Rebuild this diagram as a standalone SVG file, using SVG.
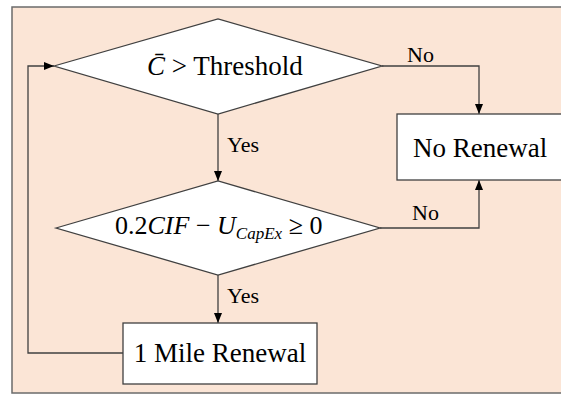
<svg xmlns="http://www.w3.org/2000/svg" width="561" height="394" viewBox="0 0 561 394">
  <defs>
    <marker id="arrow" markerUnits="userSpaceOnUse" markerWidth="10" markerHeight="10" viewBox="0 0 10 10" refX="10" refY="5" orient="auto">
      <path d="M0,1 L10,5 L0,9 Z" fill="#000"/>
    </marker>
    <style>
      .frame { fill: #FBE5D6; stroke: #6b6b6b; stroke-width: 1.5; }
      .shape { fill: #ffffff; stroke: #404040; stroke-width: 1.3; }
      .conn { fill: none; stroke: #404040; stroke-width: 1.3; marker-end: url(#arrow); }
      text { font-family: 'Liberation Serif', serif; fill: #000; }
      .lbl { font-size: 22px; }
      .big { font-size: 27px; }
    </style>
  </defs>

  <!-- background panel -->
  <rect class="frame" x="12" y="7" width="565" height="386"/>

  <!-- connectors -->
  <g id="connectors">
    <path class="conn" d="M218,114 L218,181"/>
    <path class="conn" d="M382,66 L479,66 L479,114"/>
    <path class="conn" d="M380,228 L479,228 L479,180"/>
    <path class="conn" d="M218,275 L218,323"/>
    <path class="conn" d="M123,353 L28,353 L28,66 L54,66"/>
    <text class="lbl" font-family="Liberation Serif, serif" x="227" y="152">Yes</text>
    <text class="lbl" font-family="Liberation Serif, serif" x="407" y="62">No</text>
    <text class="lbl" font-family="Liberation Serif, serif" x="412" y="220">No</text>
    <text class="lbl" font-family="Liberation Serif, serif" x="227" y="303">Yes</text>
  </g>

  <!-- decision: average condition above threshold -->
  <g id="decision-threshold">
    <polygon class="shape" points="54,66 218,19 382,66 218,114"/>
    <text class="big" font-family="Liberation Serif, serif" x="147" y="75"><tspan font-style="italic">C&#772;</tspan> &gt; Threshold</text>
  </g>

  <!-- decision: capital expenditure check -->
  <g id="decision-capex">
    <polygon class="shape" points="56,228 218,181 380,228 218,275"/>
    <text font-family="Liberation Serif, serif" x="115" y="234" font-size="26">0.2<tspan font-style="italic">CIF</tspan> − <tspan font-style="italic">U</tspan><tspan font-style="italic" font-size="17" dy="5">CapEx</tspan><tspan dy="-5"> ≥ 0</tspan></text>
  </g>

  <!-- outcome: no renewal -->
  <g id="no-renewal">
    <rect class="shape" x="397" y="114" width="180" height="66"/>
    <text class="big" font-family="Liberation Serif, serif" x="413" y="157">No Renewal</text>
  </g>

  <!-- outcome: one mile renewal -->
  <g id="mile-renewal">
    <rect class="shape" x="123" y="323" width="194" height="61"/>
    <text class="big" font-family="Liberation Serif, serif" x="220" y="362" text-anchor="middle">1 Mile Renewal</text>
  </g>
</svg>
